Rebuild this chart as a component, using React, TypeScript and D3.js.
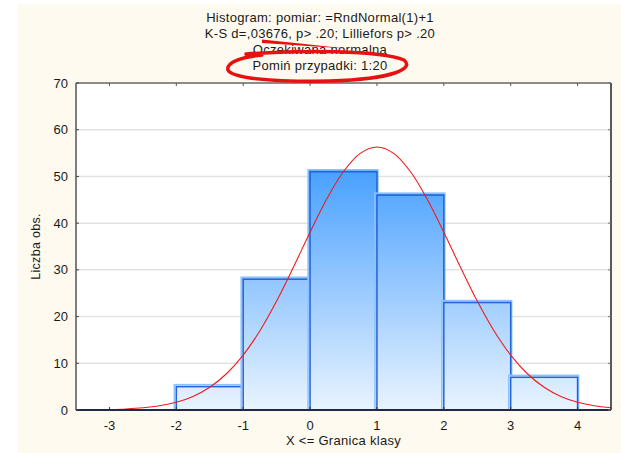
import React from 'react';
import * as d3 from 'd3';

// histogram bins (upper edge inclusive)
const binEdges = [-2, -1, 0, 1, 2, 3, 4];
const binCounts = [5, 28, 51, 46, 23, 7];

const xTicks = [-3, -2, -1, 0, 1, 2, 3, 4];
const yTicks = [0, 10, 20, 30, 40, 50, 60, 70];

// expected normal curve
const curveX = [
  -3.5, -3.25, -3, -2.75, -2.5, -2.25, -2, -1.75, -1.5, -1.25, -1, -0.75, -0.5, -0.25, 0, 0.25, 0.5,
  0.75, 1, 1.25, 1.5, 1.75, 2, 2.25, 2.5, 2.75, 3, 3.25, 3.5, 3.75, 4, 4.25, 4.5,
];
const curveY = [
  0.02, 0.05, 0.11, 0.23, 0.47, 0.9, 1.66, 2.91, 4.87, 7.76, 11.76, 16.97, 23.33, 30.54, 38.06, 45.17,
  51.05, 54.94, 56.3, 54.94, 51.05, 45.17, 38.06, 30.54, 23.33, 16.97, 11.76, 7.76, 4.87, 2.91, 1.66,
  0.9, 0.47,
];

const titleLines = [
  'Histogram: pomiar: =RndNormal(1)+1',
  'K-S d=,03676, p> .20; Lilliefors p> .20',
  'Oczekiwana normalna',
  'Pomiń przypadki: 1:20',
];
const xLabel = 'X <= Granica klasy';
const yLabel = 'Liczba obs.';

const W = 621;
const H = 453;
const left = 76;
const right = 611;
const top = 83;
const bottom = 410;
const font = '"Liberation Sans", Arial, sans-serif';

export default function App() {
  const x = d3.scaleLinear().domain([-3.5, 4.5]).range([left, right]);
  const y = d3.scaleLinear().domain([0, 70]).range([bottom, top]);

  const line = d3
    .line<number>()
    .x((d, i) => x(curveX[i]))
    .y((d) => y(d))
    .curve(d3.curveCatmullRom);

  const bins = binCounts.map((c, i) => ({ x0: binEdges[i], x1: binEdges[i + 1], c }));

  return (
    <svg
      width={W}
      height={H}
      style={{ position: 'absolute', left: 0, top: 0, background: '#fff' }}
      fontFamily={font}
    >
      <defs>
        <linearGradient id="barGrad" gradientUnits="userSpaceOnUse" x1={0} y1={y(0)} x2={0} y2={y(55)}>
          <stop offset="0" stopColor="#e9f4ff" />
          <stop offset="0.5" stopColor="#94c7ff" />
          <stop offset="1" stopColor="#3d9bff" />
        </linearGradient>
        <clipPath id="plotClip">
          <rect x={left} y={top} width={right - left} height={bottom - top} />
        </clipPath>
      </defs>

      <rect x={18} y={4} width={W - 18} height={H - 4} fill="#fffaf0" />
      <rect x={left} y={top} width={right - left} height={bottom - top} fill="#fff" />

      {/* title */}
      {titleLines.map((t, i) => (
        <text
          key={t}
          x={320}
          y={21.5 + i * 16}
          fontSize={13}
          letterSpacing={0.3}
          textAnchor="middle"
          fill="#1a1a1a"
        >
          {t}
        </text>
      ))}

      {/* grid */}
      {yTicks.slice(1, -1).map((t) => (
        <line key={t} x1={left} x2={right} y1={y(t)} y2={y(t)} stroke="#e2e2e2" strokeWidth={1.5} />
      ))}

      {/* bars */}
      {bins.map((b) => (
        <g key={b.x0}>
          <rect
            x={x(b.x0) - 2}
            y={y(b.c) - 2}
            width={x(b.x1) - x(b.x0) + 3}
            height={y(0) - y(b.c) + 2}
            fill="url(#barGrad)"
            stroke="#8cc2ff"
            strokeWidth={1.5}
          />
          <rect
            x={x(b.x0)}
            y={y(b.c)}
            width={x(b.x1) - x(b.x0)}
            height={y(0) - y(b.c)}
            fill="none"
            stroke="#2563d8"
            strokeWidth={1.5}
          />
        </g>
      ))}

      {/* expected normal */}
      <path d={line(curveY) ?? ''} fill="none" stroke="#ee1c1c" strokeWidth={1.1} clipPath="url(#plotClip)" />

      {/* frame */}
      <line x1={left} x2={right} y1={top} y2={top} stroke="#666" strokeWidth={1.5} />
      <line x1={right} x2={right} y1={top} y2={bottom} stroke="#222" strokeWidth={1.5} />
      <line x1={left} x2={left} y1={top} y2={bottom} stroke="#555" strokeWidth={1.5} />
      <line x1={left} x2={right} y1={bottom} y2={bottom} stroke="#1d2a4a" strokeWidth={2} />

      {/* ticks */}
      {xTicks.map((t) => (
        <g key={t}>
          <line x1={x(t)} x2={x(t)} y1={bottom} y2={bottom - 3} stroke="#333" />
          <line x1={x(t)} x2={x(t)} y1={top} y2={top + 3} stroke="#555" />
          <text x={x(t)} y={bottom + 20} fontSize={13} textAnchor="middle" fill="#1a1a1a">
            {t}
          </text>
        </g>
      ))}
      {yTicks.map((t) => (
        <g key={t}>
          <line x1={left} x2={left + 3} y1={y(t)} y2={y(t)} stroke="#444" />
          <line x1={right} x2={right - 3} y1={y(t)} y2={y(t)} stroke="#777" />
          <text x={left - 8} y={y(t) + 4.5} fontSize={13} textAnchor="end" fill="#1a1a1a">
            {t}
          </text>
        </g>
      ))}

      <text x={(left + right) / 2} y={445} fontSize={13} letterSpacing={0.3} textAnchor="middle" fill="#1a1a1a">
        {xLabel}
      </text>
      <text
        transform={`translate(40,${(top + bottom) / 2}) rotate(-90)`}
        fontSize={12.5}
        letterSpacing={0.3}
        textAnchor="middle"
        fill="#1a1a1a"
      >
        {yLabel}
      </text>

      {/* red hand-drawn marks */}
      <path d="M262,39.5 L300,43.5 L346,48.5 L300,45.5 L262,43 Z" fill="#e81010" />
      <path
        d="M246,54 C300,50 380,50 404,60 C414,68 396,79 330,81 C270,82 232,78 228,70 C226,63 240,57 262,55"
        fill="none"
        stroke="#e81010"
        strokeWidth={3.5}
        strokeLinecap="round"
      />
    </svg>
  );
}
